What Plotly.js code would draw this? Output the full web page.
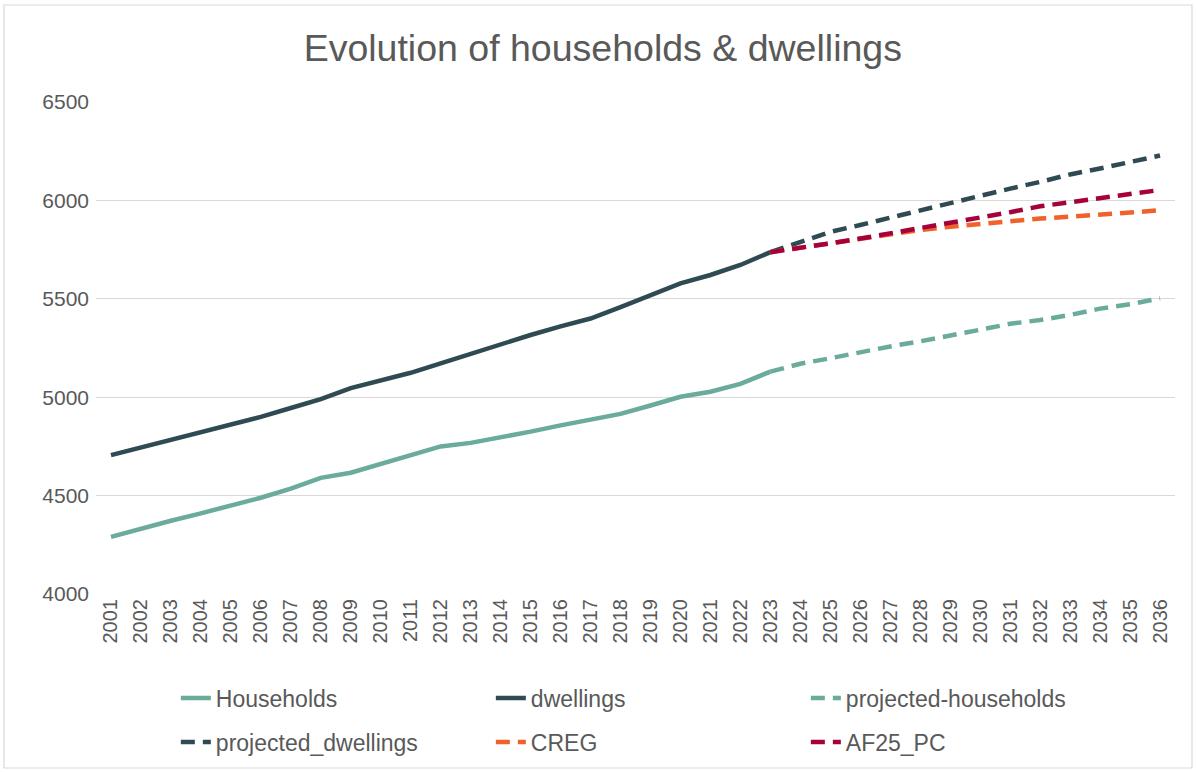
<!DOCTYPE html>
<html>
<head>
<meta charset="utf-8">
<script src="https://cdn.plot.ly/plotly-3.0.1.min.js"></script>
<style>html,body{margin:0;padding:0;background:#fff;}#chart{width:1196px;height:772px;}</style>
</head>
<body>
<div id="chart"></div>
<script>
const histYears = ["2001","2002","2003","2004","2005","2006","2007","2008","2009","2010","2011","2012","2013","2014","2015","2016","2017","2018","2019","2020","2021","2022","2023"];
const projYears = ["2023","2024","2025","2026","2027","2028","2029","2030","2031","2032","2033","2034","2035","2036"];
const households = [4290,4332,4372,4410,4447,4489,4535,4590,4616,4662,4708,4750,4768,4795,4825,4857,4884,4915,4958,5002,5028,5068,5130];
const dwellings = [4706,4745,4785,4825,4865,4900,4945,4990,5046,5087,5124,5172,5222,5268,5316,5360,5400,5458,5518,5578,5621,5672,5737];
const projectedHouseholds = [5130,5170,5198,5230,5258,5284,5311,5343,5373,5392,5418,5450,5472,5502];
const projectedDwellings = [5737,5790,5840,5875,5913,5950,5987,6026,6060,6094,6132,6162,6193,6228];
const creg = [5737,5760,5784,5806,5830,5850,5866,5881,5895,5908,5917,5926,5938,5950];
const af25 = [5737,5762,5782,5806,5832,5857,5886,5913,5940,5970,5992,6013,6036,6053];
const yTicks = [4000,4500,5000,5500,6000,6500];

const teal = "#6aab9c", dark = "#2f4a52", orange = "#f0622a", crimson = "#a5013b";
const dash = "14px,8px";
const W = 4.5;

const traces = [
  {x: histYears, y: households, name: "Households", mode: "lines", line: {color: teal, width: W}, legend: "legend"},
  {x: histYears, y: dwellings, name: "dwellings", mode: "lines", line: {color: dark, width: W}, legend: "legend"},
  {x: projYears, y: projectedHouseholds, name: "projected-households", mode: "lines", line: {color: teal, width: W, dash: dash}, legend: "legend"},
  {x: projYears, y: projectedDwellings, name: "projected_dwellings", mode: "lines", line: {color: dark, width: W, dash: dash}, legend: "legend2"},
  {x: projYears, y: creg, name: "CREG", mode: "lines", line: {color: orange, width: W, dash: dash}, legend: "legend2"},
  {x: projYears, y: af25, name: "AF25_PC", mode: "lines", line: {color: crimson, width: W, dash: dash}, legend: "legend2"}
];

const allYears = histYears.concat(projYears.slice(1));
const fontFam = "Liberation Sans, Arial, sans-serif";
const legendCommon = {
  orientation: "h", x: 0.074, xanchor: "left", yanchor: "middle",
  entrywidth: 270, entrywidthmode: "pixels",
  font: {family: fontFam, size: 23, color: "#595959"},
  bgcolor: "rgba(0,0,0,0)", traceorder: "normal"
};

const layout = {
  width: 1196, height: 772,
  margin: {l: 96, r: 21, t: 102, b: 178, autoexpand: false},
  paper_bgcolor: "#ffffff", plot_bgcolor: "#ffffff",
  font: {family: fontFam, color: "#595959"},
  title: {text: "Evolution of households & dwellings", font: {family: fontFam, size: 37.5, color: "#595959"},
          xref: "container", x: 0.504, xanchor: "center", yref: "container", y: 0.938, yanchor: "middle"},
  xaxis: {type: "category", categoryorder: "array", categoryarray: allYears, range: [-0.5, allYears.length - 0.5],
          tickangle: -90, tickfont: {size: 20, color: "#595959"}, showgrid: false,
          showline: false, ticks: "", zeroline: false, fixedrange: true},
  yaxis: {range: [4000, 6500], tickvals: yTicks, ticktext: yTicks.map(String),
          tickfont: {size: 21, color: "#595959"}, showgrid: true, gridcolor: "#d9d9d9", gridwidth: 1.3,
          zeroline: false, showline: false, ticks: "", ticklabelstandoff: 6, fixedrange: true},
  legend: Object.assign({}, legendCommon, {y: -0.2115}),
  legend2: Object.assign({}, legendCommon, {y: -0.301}),
  shapes: [{type: "rect", xref: "paper", yref: "paper",
            x0: (4 - 96) / 1079, x1: (1192 - 96) / 1079,
            y0: (594 - 768) / 492, y1: (594 - 5) / 492,
            line: {color: "#d9d9d9", width: 1.2}, layer: "below"}],
  showlegend: true
};

Plotly.newPlot("chart", traces, layout, {displayModeBar: false, staticPlot: true});
</script>
</body>
</html>
